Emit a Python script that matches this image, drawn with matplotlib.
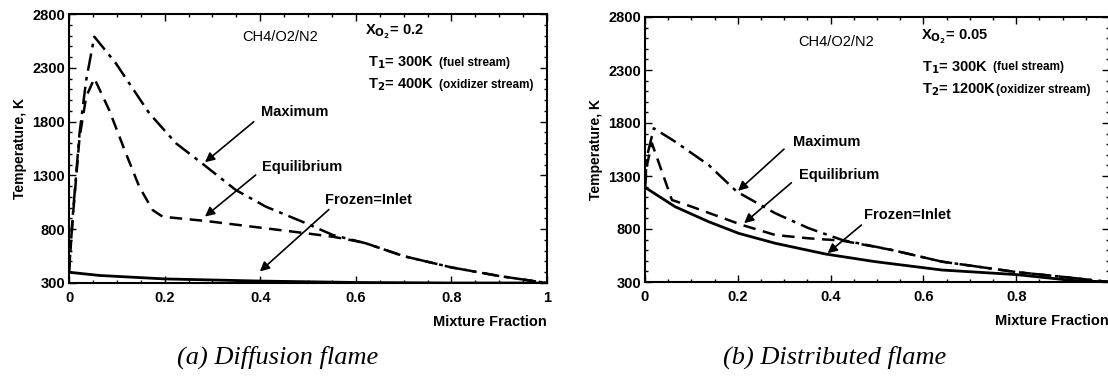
import matplotlib
matplotlib.use("Agg")
import matplotlib.pyplot as plt
from matplotlib.ticker import MultipleLocator

plt.rcParams['font.family'] = ['Liberation Sans', 'DejaVu Sans']
plt.rcParams['font.weight'] = 'bold'

# (a) diffusion flame, X_O2 = 0.2
a_max_x = [0, 0.0077, 0.022, 0.036, 0.053, 0.098, 0.168, 0.224, 0.28, 0.349, 0.412, 0.496, 0.552, 0.621, 0.7, 0.8, 0.9, 1.0]
a_max_T = [400, 916, 1691, 2187, 2589, 2342, 1877, 1598, 1406, 1164, 1009, 855, 746, 669, 550, 445, 365, 300]
a_eq_x = [0, 0.0077, 0.022, 0.036, 0.053, 0.084, 0.119, 0.147, 0.175, 0.196, 0.287, 0.412, 0.496, 0.552, 0.6, 0.621, 0.7, 0.8, 0.9, 1.0]
a_eq_T = [400, 900, 1650, 2031, 2202, 1908, 1505, 1195, 978, 916, 876, 808, 762, 730, 690, 669, 550, 445, 365, 300]
a_fr_x = [0, 0.064, 0.2, 0.4, 0.6, 0.8, 1.0]
a_fr_T = [400, 370, 338, 318, 305, 300, 300]

# (b) distributed flame, X_O2 = 0.05
b_max_x = [0, 0.004, 0.019, 0.065, 0.137, 0.198, 0.281, 0.353, 0.425, 0.532, 0.64, 0.8, 0.916, 1.0]
b_max_T = [1200, 1480, 1750, 1624, 1404, 1152, 948, 807, 696, 602, 492, 394, 341, 300]
b_eq_x = [0, 0.004, 0.015, 0.058, 0.101, 0.209, 0.281, 0.353, 0.425, 0.532, 0.64, 0.8, 0.916, 1.0]
b_eq_T = [1200, 1400, 1608, 1074, 1010, 838, 743, 712, 690, 602, 492, 394, 341, 300]
b_fr_x = [0, 0.065, 0.137, 0.202, 0.281, 0.389, 0.496, 0.64, 0.8, 0.92, 1.0]
b_fr_T = [1193, 1010, 869, 759, 665, 564, 492, 413, 370, 315, 300]

yticks = [300, 800, 1300, 1800, 2300, 2800]
xticks = [0, 0.2, 0.4, 0.6, 0.8, 1]

fig = plt.figure(figsize=(11.08, 3.83), dpi=100)
ax1 = fig.add_axes([69/1108, 1-283/383, 478/1108, 269/383])
ax2 = fig.add_axes([645/1108, 1-282/383, 464/1108, 265/383])

FS = 10.5

def style(ax, xlabels):
    ax.set_xlim(0, 1)
    ax.set_ylim(300, 2800)
    ax.set_xticks(xticks)
    ax.set_xticklabels(xlabels)
    ax.set_yticks(yticks)
    ax.xaxis.set_minor_locator(MultipleLocator(0.05))
    ax.yaxis.set_minor_locator(MultipleLocator(100))
    ax.tick_params(which='both', direction='in', top=True, right=True, labelsize=FS, width=1)
    ax.tick_params(which='major', length=5)
    ax.tick_params(which='minor', length=2.5)
    ax.tick_params(axis='x', pad=6)
    ax.tick_params(axis='y', pad=3)
    for s in ax.spines.values():
        s.set_linewidth(1.5)
    ax.set_ylabel('Temperature, K', fontsize=10, fontweight='bold', labelpad=4)
    ax.set_xlabel('Mixture Fraction', fontsize=FS, fontweight='bold', loc='right', labelpad=7)

def curves(ax, mx, mT, ex, eT, fx, fT):
    ax.plot(mx, mT, color='k', lw=1.8, dashes=(7, 2.5, 1.5, 2.5))
    ax.plot(ex, eT, color='k', lw=1.8, dashes=(5, 3))
    ax.plot(fx, fT, color='k', lw=2.0)

def arrow(ax, label, txy, start, tip):
    ax.text(txy[0], txy[1], label, fontsize=FS, fontweight='bold', va='center', ha='left')
    ax.annotate('', xy=tip, xytext=start,
                arrowprops=dict(arrowstyle='-|>', color='k', lw=1.2, mutation_scale=14))

def stream(ax, x, y, main, note, gap=4):
    t = ax.text(x, y, main, fontsize=FS, va='center')
    ax.annotate(note, xy=(1, 0.5), xycoords=t, xytext=(gap, 0), textcoords='offset points',
                fontsize=8.5, va='center', ha='left')

curves(ax1, a_max_x, a_max_T, a_eq_x, a_eq_T, a_fr_x, a_fr_T)
style(ax1, ['0', '0.2', '0.4', '0.6', '0.8', '1'])
ax1.text(0.441, 2590, 'CH4/O2/N2', fontsize=FS, fontweight='normal', ha='center', va='center')
ax1.text(0.619, 2633, r'X$_{\mathbf{O_2}}$= 0.2', fontsize=FS, va='center')
stream(ax1, 0.625, 2347, r'T$_{\mathbf{1}}$= 300K', '(fuel stream)')
stream(ax1, 0.625, 2140, r'T$_{\mathbf{2}}$= 400K', '(oxidizer stream)')
arrow(ax1, 'Maximum', (0.402, 1892), (0.391, 1815), (0.28, 1406))
arrow(ax1, 'Equilibrium', (0.404, 1381), (0.395, 1320), (0.28, 901))
arrow(ax1, 'Frozen=Inlet', (0.536, 1074), (0.548, 1000), (0.395, 390))

curves(ax2, b_max_x, b_max_T, b_eq_x, b_eq_T, b_fr_x, b_fr_T)
style(ax2, ['0', '0.2', '0.4', '0.6', '0.8', ''])
ax2.text(0.412, 2567, 'CH4/O2/N2', fontsize=FS, fontweight='normal', ha='center', va='center')
ax2.text(0.595, 2614, r'X$_{\mathbf{O_2}}$= 0.05', fontsize=FS, va='center')
stream(ax2, 0.596, 2325, r'T$_{\mathbf{1}}$= 300K', '(fuel stream)')
stream(ax2, 0.596, 2112, r'T$_{\mathbf{2}}$= 1200K', '(oxidizer stream)', gap=0.5)
arrow(ax2, 'Maximum', (0.32, 1618), (0.304, 1571), (0.196, 1142))
arrow(ax2, 'Equilibrium', (0.331, 1309), (0.32, 1253), (0.209, 838))
arrow(ax2, 'Frozen=Inlet', (0.473, 932), (0.471, 854), (0.389, 555))

fig.text(278/1108, 1-357/383, '(a) Diffusion flame', family='Liberation Serif', style='italic',
         fontweight='normal', fontsize=19, ha='center', va='center')
fig.text(835/1108, 1-357/383, '(b) Distributed flame', family='Liberation Serif', style='italic',
         fontweight='normal', fontsize=19, ha='center', va='center')

fig.savefig('out.png', dpi=100)
